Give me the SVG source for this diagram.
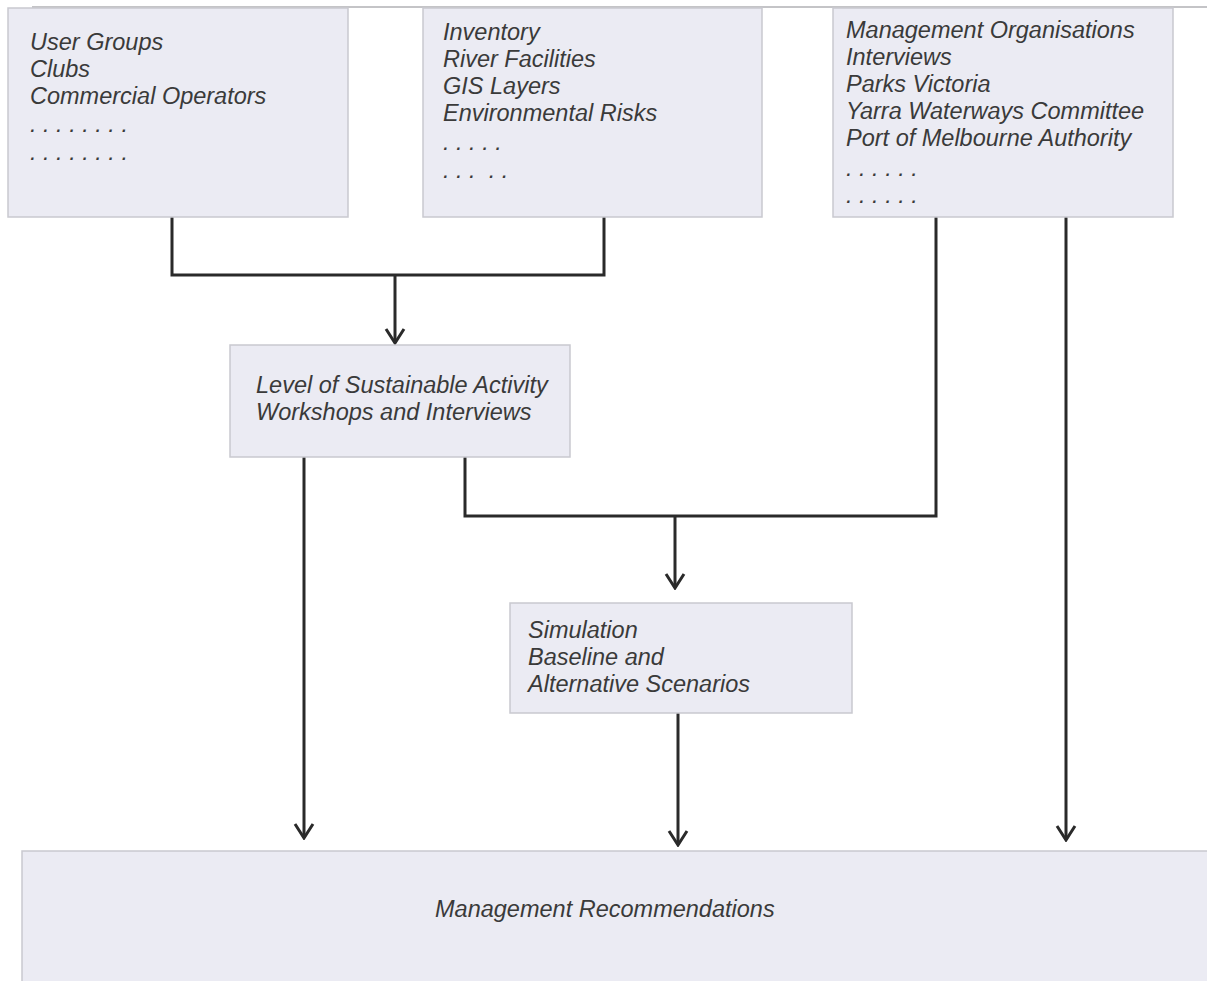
<svg xmlns="http://www.w3.org/2000/svg" width="1207" height="981" viewBox="0 0 1207 981">
<style>
.box{fill:#ebebf3;stroke:#c9c9cf;stroke-width:1.5}
.t{font-family:"Liberation Sans",Arial,sans-serif;font-style:italic;font-size:23.5px;fill:#3a3a3a}
.c{fill:none;stroke:#2a2a2a;stroke-width:3}
</style>
<defs>
<marker id="ah" viewBox="-2 -11 18 22" refX="14" refY="0" markerWidth="18" markerHeight="22" markerUnits="userSpaceOnUse" orient="auto">
<path d="M0,-9 L14,0 L0,9" fill="none" stroke="#2a2a2a" stroke-width="3"/>
</marker>
</defs>
<rect width="1207" height="981" fill="#ffffff"/>
<line x1="32" y1="7" x2="1207" y2="7" stroke="#b0b0b4" stroke-width="1.5"/>
<g id="connectors">
<path class="c" d="M172,217 V275 H604 V217"/>
<path class="c" d="M395,275 V343" marker-end="url(#ah)"/>
<path class="c" d="M465,457 V516 H936 V217"/>
<path class="c" d="M675,516 V588" marker-end="url(#ah)"/>
<path class="c" d="M304,457 V838" marker-end="url(#ah)"/>
<path class="c" d="M678,713 V845" marker-end="url(#ah)"/>
<path class="c" d="M1066,217 V840" marker-end="url(#ah)"/>
</g>
<g id="user-groups">
<rect class="box" x="8" y="8" width="340" height="209"/>
<text class="t" x="30" y="50">User Groups</text>
<text class="t" x="30" y="77">Clubs</text>
<text class="t" x="30" y="104">Commercial Operators</text>
<text class="t" x="30" y="132">. . . . . . . .</text>
<text class="t" x="30" y="160">. . . . . . . .</text>
</g>
<g id="inventory">
<rect class="box" x="423" y="8" width="339" height="209"/>
<text class="t" x="443" y="40">Inventory</text>
<text class="t" x="443" y="67">River Facilities</text>
<text class="t" x="443" y="94">GIS Layers</text>
<text class="t" x="443" y="121">Environmental Risks</text>
<text class="t" x="443" y="150">. . . . .</text>
<text class="t" x="443" y="178" xml:space="preserve">. . .  . .</text>
</g>
<g id="management-organisations">
<rect class="box" x="833" y="8" width="340" height="209"/>
<text class="t" x="846" y="38">Management Organisations</text>
<text class="t" x="846" y="65">Interviews</text>
<text class="t" x="846" y="92">Parks Victoria</text>
<text class="t" x="846" y="119">Yarra Waterways Committee</text>
<text class="t" x="846" y="146">Port of Melbourne Authority</text>
<text class="t" x="846" y="176">. . . . . .</text>
<text class="t" x="846" y="203">. . . . . .</text>
</g>
<g id="level-of-sustainable-activity">
<rect class="box" x="230" y="345" width="340" height="112"/>
<text class="t" x="256" y="393">Level of Sustainable Activity</text>
<text class="t" x="256" y="420">Workshops and Interviews</text>
</g>
<g id="simulation">
<rect class="box" x="510" y="603" width="342" height="110"/>
<text class="t" x="528" y="638">Simulation</text>
<text class="t" x="528" y="665">Baseline and</text>
<text class="t" x="528" y="692">Alternative Scenarios</text>
</g>
<g id="management-recommendations">
<rect class="box" x="22" y="851" width="1195" height="140"/>
<text class="t" x="435" y="917">Management Recommendations</text>
</g>
</svg>
